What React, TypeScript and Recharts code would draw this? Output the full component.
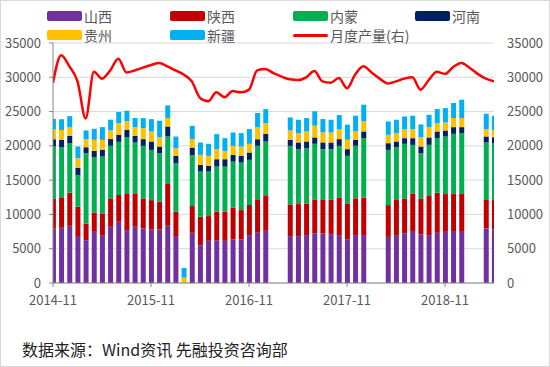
import React from "react";
import { ComposedChart, Bar, Line, XAxis, YAxis, CartesianGrid } from "recharts";

const months = [
  "2014-11", "2014-12",
  "2015-01", "2015-02", "2015-03", "2015-04", "2015-05", "2015-06", "2015-07", "2015-08", "2015-09", "2015-10", "2015-11", "2015-12",
  "2016-01", "2016-02", "2016-03", "2016-04", "2016-05", "2016-06", "2016-07", "2016-08", "2016-09", "2016-10", "2016-11", "2016-12",
  "2017-01", "2017-02", "2017-03", "2017-04", "2017-05", "2017-06", "2017-07", "2017-08", "2017-09", "2017-10", "2017-11", "2017-12",
  "2018-01", "2018-02", "2018-03", "2018-04", "2018-05", "2018-06", "2018-07", "2018-08", "2018-09", "2018-10", "2018-11", "2018-12",
  "2019-01", "2019-02", "2019-03", "2019-04", "2019-05",
];

// 山西
const shanxi = [
  7950, 8050, 8340, 6730, 6240, 7460, 6980, 8200, 8930, 7710, 8200, 7950, 7800, 7800, 8440, 6730, 0, 7320,
  5510, 6150, 6240, 6150, 6340, 6340, 6980, 7320, 7610, null, null, 6830, 6830, 6980, 7220, 7220, 7120, 6980,
  6390, 6980, 6980, null, null, 6730, 6980, 7220, 7460, 7070, 6980, 7320, 7460, 7460, 7460, null, null, 7950, 7800,
];
// 陕西
const shaanxi = [
  4390, 4340, 4830, 4390, 2440, 2830, 3170, 4150, 3900, 5270, 4880, 4390, 4290, 4050, 6000, 3660, 0, 3900,
  4150, 3610, 4150, 4240, 4630, 4290, 4390, 4880, 5070, null, null, 4630, 4680, 4630, 4980, 4980, 5070, 5510,
  5220, 5370, 5460, null, null, 4630, 5120, 5120, 5610, 5270, 5710, 5850, 5510, 5510, 5510, null, null, 4150, 4290,
];
// 内蒙
const neimeng = [
  7560, 7410, 7220, 4630, 10240, 8050, 8290, 7660, 7760, 8290, 7410, 7660, 7320, 7070, 6930, 7070, 0, 7410,
  6590, 6490, 6590, 6590, 6730, 6930, 6590, 7800, 7950, null, null, 8540, 8000, 8050, 8100, 7320, 7320, 7510,
  6930, 7660, 8680, null, null, 8050, 7710, 7950, 7070, 6590, 7460, 7950, 8390, 8780, 8880, null, null, 8390, 8290,
];
// 河南
const henan = [
  1070, 1070, 1070, 1070, 880, 930, 980, 980, 1020, 1070, 980, 980, 1220, 980, 1460, 1070, 0, 1120,
  980, 830, 1070, 1070, 980, 980, 1070, 980, 1120, null, null, 880, 980, 980, 930, 980, 980, 980,
  980, 880, 980, null, null, 980, 830, 830, 980, 980, 1070, 980, 880, 980, 880, null, null, 880, 880,
];
// 贵州
const guizhou = [
  1460, 1460, 1270, 1370, 1170, 1610, 1460, 1270, 1710, 1270, 1270, 1610, 1460, 1370, 1220, 1120, 780, 1220,
  1460, 1460, 1460, 1220, 1320, 1370, 1270, 1760, 1560, null, null, 1370, 1370, 1460, 1710, 1460, 1460, 1460,
  1370, 1220, 1460, null, null, 1220, 1220, 1320, 1320, 1370, 1510, 1220, 1170, 1320, 1320, null, null, 1070, 1070,
];
// 新疆
const xinjiang = [
  1510, 1560, 1610, 1710, 1270, 1610, 1850, 1560, 1610, 1510, 1320, 1460, 1800, 2390, 1850, 1710, 1410, 1950,
  1800, 1760, 2200, 1850, 1950, 1950, 2150, 2050, 2050, null, null, 1900, 1950, 1950, 2100, 1950, 1850, 2050,
  2200, 2290, 2440, null, null, 1950, 1950, 1850, 1950, 1850, 1800, 2050, 2100, 2200, 2680, null, null, 2240, 2050,
];
// 月度产量(右)
const output = [
  29200, 33200, 31600, 29400, 24000, 30800, 29800, 31000, 32700, 30700, 31000, 31400, 31800, 32100, 31600, 31000, 30400, 29400,
  27000, 26500, 27800, 27100, 28000, 27800, 28200, 31000, 31200, 30600, 30100, 29700, 29600, 30000, 30900, 29400, 29200, 29900,
  28400, 30400, 31600, 30700, 29800, 29100, 29400, 29800, 30000, 28200, 29600, 30800, 30500, 31500, 32100, 31400, 30500, 29800, 29400,
];

const xTicks = [0, 12, 24, 36, 48];
const yTicks = [0, 5000, 10000, 15000, 20000, 25000, 30000, 35000];

const series = [
  { key: "山西", values: shanxi, color: "#7030A0" },
  { key: "陕西", values: shaanxi, color: "#C00000" },
  { key: "内蒙", values: neimeng, color: "#00B050" },
  { key: "河南", values: henan, color: "#002060" },
  { key: "贵州", values: guizhou, color: "#FFC000" },
  { key: "新疆", values: xinjiang, color: "#00B0F0" },
];

const data = months.map((m, i) => {
  const row: any = { idx: i, month: m, 月度产量: output[i] };
  series.forEach((s) => (row[s.key] = s.values[i]));
  return row;
});

const legendItems = [
  { name: "山西", color: "#7030A0", line: false, x: 47, y: 9 },
  { name: "陕西", color: "#C00000", line: false, x: 170, y: 9 },
  { name: "内蒙", color: "#00B050", line: false, x: 293, y: 9 },
  { name: "河南", color: "#002060", line: false, x: 415, y: 9 },
  { name: "贵州", color: "#FFC000", line: false, x: 47, y: 28 },
  { name: "新疆", color: "#00B0F0", line: false, x: 170, y: 28 },
  { name: "月度产量(右)", color: "#FF0000", line: true, x: 293, y: 28 },
];

const axisColor = "#868686";
const textColor = "#595959";

export default function App() {
  return (
    <div
      style={{
        position: "absolute",
        left: 0,
        top: 0,
        width: 550,
        height: 367,
        background: "#fff",
        fontFamily: "'Noto Sans CJK SC', 'Noto Sans', sans-serif",
      }}
    >
      <ComposedChart
        width={550}
        height={367}
        data={data}
        margin={{ top: 43, right: 0, left: 0, bottom: 54 }}
        barSize={5}
      >
        <CartesianGrid vertical={false} stroke="#d9d9d9" yAxisId="left" />
        <XAxis
          dataKey="idx"
          type="number"
          domain={[0, 54]}
          ticks={xTicks}
          allowDataOverflow
          tickFormatter={(i: number) => months[i]}
          height={30}
          tickSize={4}
          tickMargin={9}
          stroke={axisColor}
          tick={{ fill: textColor, fontSize: 13 }}
        />
        <YAxis
          yAxisId="left"
          domain={[0, 35000]}
          ticks={yTicks}
          width={53}
          tickSize={4}
          tickMargin={8}
          stroke={axisColor}
          tick={{ fill: textColor, fontSize: 13 }}
        />
        <YAxis
          yAxisId="right"
          orientation="right"
          domain={[0, 35000]}
          ticks={yTicks}
          width={56}
          tickSize={4}
          tickMargin={9}
          axisLine={false}
          tickLine={false}
          tick={{ fill: textColor, fontSize: 13, textAnchor: "start" }}
        />
        {series.map((s) => (
          <Bar
            key={s.key}
            dataKey={s.key}
            stackId="a"
            yAxisId="left"
            fill={s.color}
            isAnimationActive={false}
          />
        ))}
        <Line
          dataKey="月度产量"
          yAxisId="right"
          type="monotone"
          stroke="#FF0000"
          strokeWidth={2.5}
          dot={false}
          isAnimationActive={false}
        />
      </ComposedChart>

      {legendItems.map((item) => (
        <div
          key={item.name}
          style={{
            position: "absolute",
            left: item.x,
            top: item.y,
            height: 14,
            display: "flex",
            alignItems: "center",
            fontSize: 14,
            lineHeight: "14px",
            color: textColor,
            whiteSpace: "nowrap",
          }}
        >
          {item.line ? (
            <span style={{ width: 35, height: 3, background: item.color, borderRadius: 1.5, marginRight: 2 }} />
          ) : (
            <span style={{ width: 35, height: 10, background: item.color, borderRadius: 2, marginRight: 2 }} />
          )}
          <span>{item.name}</span>
        </div>
      ))}

      <div
        style={{
          position: "absolute",
          left: 22,
          top: 340,
          fontSize: 16,
          lineHeight: "18px",
          color: "#222",
          whiteSpace: "nowrap",
        }}
      >
        数据来源：Wind资讯 先融投资咨询部
      </div>

      <div
        style={{
          position: "absolute",
          inset: 0,
          border: "1px solid #d9d9d9",
          pointerEvents: "none",
        }}
      />
    </div>
  );
}
